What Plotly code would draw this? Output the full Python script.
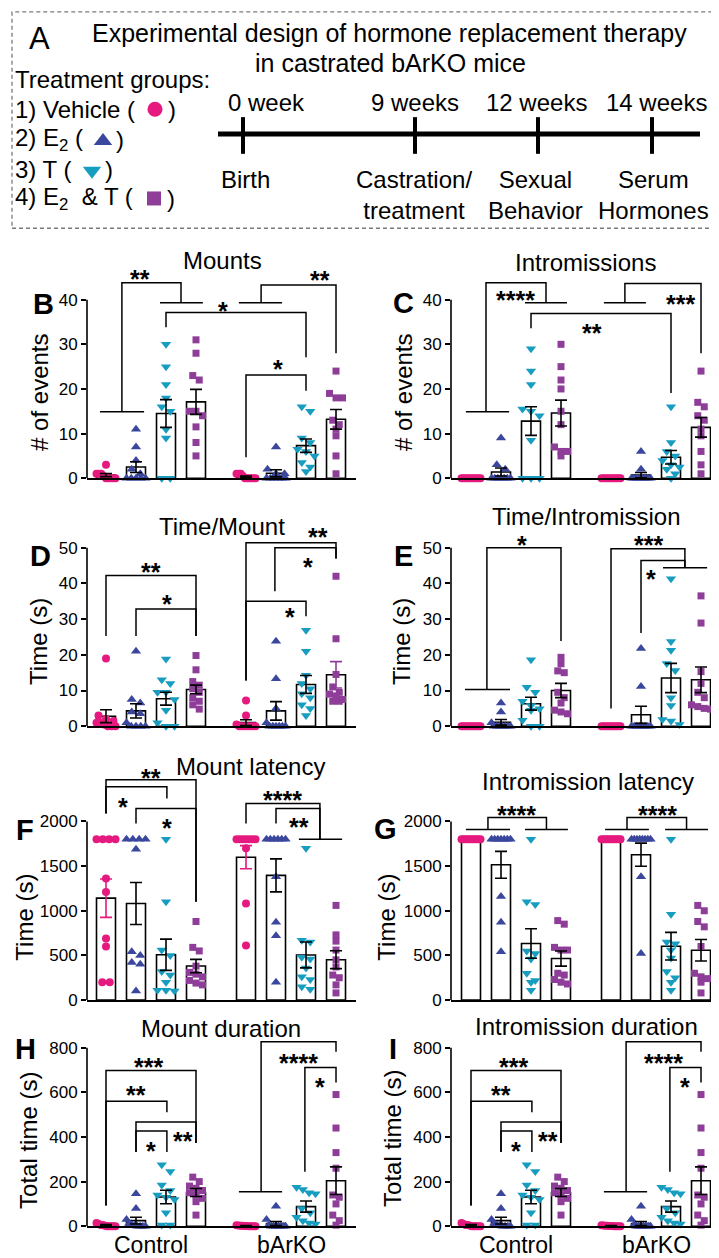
import plotly.graph_objects as go

# ---------------- data ----------------
group_names = ["Vehicle", "E2", "T", "E2 & T"]
genotypes = ["Control", "bArKO"]
bar_pos = [0, 1, 2, 3, 4.667, 5.667, 6.667, 7.667]

mounts_mean = [0.7, 2.5, 14.5, 17.1, 0.35, 1.1, 7.3, 13.2]
mounts_sem = [0.35, 1.2, 3.1, 2.8, 0.15, 0.8, 1.5, 2.2]
mounts_pts = [
    [3, 1, 1, 1, 0.5, 0, 0, 0, 0, 0],
    [11, 7, 4, 2, 1, 0, 0, 0, 0, 0],
    [30, 25, 21, 18, 16, 15, 11, 9, 0, 0],
    [31, 28, 23, 22, 15, 15, 14, 11.5, 8, 5],
    [1, 1, 1, 0.5, 0, 0, 0, 0, 0, 0],
    [7, 2, 1, 1, 0, 0, 0, 0, 0, 0],
    [16, 15, 9, 8, 6.5, 6, 5, 3.5, 2.5, 1.5],
    [24, 19, 18, 18, 13, 12, 11, 9.5, 5, 1],
]

intro_mean = [0, 1.4, 12.8, 14.6, 0, 0.7, 4.7, 11.4]
intro_sem = [0, 0.9, 3.2, 2.9, 0, 0.6, 1.5, 2.2]
intro_pts = [
    [0, 0, 0, 0, 0, 0, 0, 0, 0, 0],
    [9, 3, 2, 0, 0, 0, 0, 0, 0, 0],
    [29, 24, 21, 15.5, 15, 14, 8.5, 0, 0, 0],
    [30, 25, 22, 20, 15, 12, 7, 6, 6, 5],
    [0, 0, 0, 0, 0, 0, 0, 0, 0, 0],
    [6, 2, 0, 0, 0, 0, 0, 0, 0, 0],
    [16, 8, 6, 5, 4, 3, 2.5, 2, 1, 0],
    [24, 17, 16, 14, 13, 11, 9.5, 6, 3, 1],
]

tpm_mean = [2.8, 4.3, 7.7, 10.3, 1.0, 4.3, 11.7, 14.4]
tpm_sem = [1.8, 2.0, 1.8, 1.2, 0.8, 2.6, 2.5, 3.7]
tpm_pts = [
    [19, 3, 2, 1.5, 1, 1, 0.5, 0, 0, 0],
    [21, 7.5, 6.5, 4, 3.5, 1, 0, 0, 0, 0],
    [18.8, 13, 12, 9.5, 9.5, 7.5, 4.5, 1, 0, 0],
    [19.8, 15.8, 12.5, 11.5, 10.5, 9.5, 8, 7, 6, 4.8],
    [7.2, 3, 0.5, 0, 0, 0, 0, 0, 0, 0],
    [23.8, 13.3, 5, 1, 0, 0, 0, 0, 0, 0],
    [26.9, 21, 14.3, 12, 10.5, 9.1, 8, 6, 5, 3],
    [42, 24.5, 14.5, 11, 9.5, 9, 8.5, 7.5, 7, 7],
]

tpi_mean = [0, 1.1, 6.3, 10.0, 0, 3.2, 13.5, 13.0]
tpi_sem = [0, 0.8, 1.8, 2.0, 0, 2.4, 4.1, 3.6]
tpi_pts = [
    [0, 0, 0, 0, 0, 0, 0, 0, 0, 0],
    [6.5, 4, 1, 0, 0, 0, 0, 0, 0, 0],
    [18.6, 10.9, 9.5, 7, 5.8, 4.9, 4.5, 1.7, 0, 0],
    [19.3, 17.5, 15.5, 15, 9.5, 8, 6.5, 4.5, 4, 3.5],
    [0, 0, 0, 0, 0, 0, 0, 0, 0, 0],
    [21.8, 11.1, 0, 0, 0, 0, 0, 0, 0, 0],
    [41.3, 23.7, 21.3, 17.6, 15.6, 8, 5.8, 1.9, 1.5, 0.5],
    [36.5, 28.9, 15.3, 12, 9.5, 8, 6, 5.5, 5, 4.8],
]

mlat_mean = [1141, 1081, 507, 381, 1600, 1396, 505, 452]
mlat_sem = [215, 235, 175, 75, 130, 185, 145, 100]
mlat_pts = [
    [1800, 1800, 1800, 1800, 1360, 1210, 690, 600, 200, 200],
    [1800, 1800, 1800, 1800, 1690, 540, 500, 420, 400, 100],
    [1800, 1100, 560, 500, 320, 280, 200, 110, 110, 100],
    [880, 590, 550, 380, 310, 290, 260, 220, 190, 170],
    [1800, 1800, 1800, 1800, 1800, 1800, 1800, 1700, 1080, 610],
    [1800, 1800, 1800, 1800, 1800, 1800, 1380, 870, 720, 200],
    [1700, 670, 650, 480, 460, 360, 260, 230, 150, 120],
    [1060, 730, 660, 560, 450, 370, 280, 250, 170, 80],
]

ilat_mean = [1800, 1515, 633, 465, 1800, 1628, 603, 558]
ilat_sem = [0, 150, 165, 85, 0, 130, 155, 120]
ilat_pts = [
    [1800, 1800, 1800, 1800, 1800, 1800, 1800, 1800, 1800, 1800],
    [1800, 1800, 1800, 1800, 1800, 1800, 1800, 1160, 870, 540],
    [1800, 1100, 1070, 550, 520, 460, 300, 220, 200, 110],
    [890, 850, 590, 560, 560, 300, 280, 230, 200, 180],
    [1800, 1800, 1800, 1800, 1800, 1800, 1800, 1800, 1800, 1800],
    [1800, 1800, 1800, 1800, 1800, 1800, 1800, 1800, 1380, 520],
    [1800, 960, 650, 630, 560, 470, 320, 250, 200, 110],
    [1060, 1000, 880, 820, 600, 300, 260, 240, 200, 80],
]

mdur_mean = [5, 25, 131, 151, 2, 12, 88, 204]
mdur_sem = [2, 15, 30, 18, 1, 9, 25, 62]
mdur_pts = [
    [15, 10, 5, 5, 2, 0, 0, 0, 0, 0],
    [145, 80, 30, 12, 5, 3, 0, 0, 0, 0],
    [275, 245, 185, 160, 140, 130, 120, 60, 5, 5],
    [220, 200, 180, 170, 160, 150, 140, 125, 110, 50],
    [4, 3, 2, 2, 1, 1, 0, 0, 0, 0],
    [90, 30, 5, 0, 0, 0, 0, 0, 0, 0],
    [175, 165, 150, 145, 80, 60, 40, 25, 15, 10],
    [590, 440, 330, 260, 140, 130, 100, 50, 25, 5],
]

idur_mean = [5, 25, 131, 151, 2, 12, 88, 204]
idur_sem = [2, 15, 30, 18, 1, 9, 25, 62]
idur_pts = [
    [15, 10, 5, 5, 2, 0, 0, 0, 0, 0],
    [145, 80, 30, 12, 5, 3, 0, 0, 0, 0],
    [275, 245, 185, 160, 140, 130, 120, 60, 5, 5],
    [220, 200, 180, 170, 160, 150, 140, 125, 110, 50],
    [4, 3, 2, 2, 1, 1, 0, 0, 0, 0],
    [90, 30, 5, 0, 0, 0, 0, 0, 0, 0],
    [175, 165, 150, 145, 80, 60, 40, 25, 15, 10],
    [590, 440, 330, 260, 140, 130, 100, 50, 25, 5],
]

# significance brackets in data units: (x_a, y_a_bottom, x_b, y_b_bottom, y_top)
mounts_br = [(0.53, 14.9, 2.5, 39.3, 43.8), (5.17, 39.3, 7.667, 28, 43.3),
             (2.0, 33.8, 6.667, 27.1, 37.1), (4.667, 4.7, 6.667, 19.6, 23.1)]
mounts_hl = [(-0.2, 1.27, 14.9), (1.8, 3.23, 39.3), (4.43, 5.87, 39.3)]
mounts_st = [(1.13, 46.0, "**"), (7.13, 45.8, "**"), (3.9, 38.8, "*"), (5.73, 25.8, "*")]

intro_br = [(0.5, 14.9, 2.5, 39.3, 43.8), (5.13, 39.3, 7.667, 28, 43.6),
            (2.0, 33.6, 6.667, 19.1, 36.9)]
intro_hl = [(-0.17, 1.27, 14.9), (1.8, 3.2, 39.3), (4.43, 5.83, 39.3)]
intro_st = [(1.47, 41.3, "****"), (6.97, 40.4, "***"), (4.03, 33.8, "**")]

tpm_br = [(0, 25.3, 3, 25.3, 42.2), (1, 25.3, 3, 25.3, 32.8),
          (4.667, 12.8, 7.667, 47, 51.4), (5.63, 37.8, 7.667, 47, 50),
          (4.667, 12.8, 6.667, 30.8, 35)]
tpm_hl = []
tpm_st = [(1.5, 45, "**"), (2.03, 35.8, "*"), (7.07, 54.7, "**"), (6.73, 46.4, "*"), (6.13, 32.2, "*")]

tpi_br = [(0.53, 10.3, 3.0, 23.9, 50), (4.667, 5.0, 7.13, 44.4, 49.7),
          (5.667, 26.1, 7.13, 44.4, 46.4)]
tpi_hl = [(-0.2, 1.3, 10.3), (6.4, 7.87, 44.4)]
tpi_st = [(1.7, 52.5, "*"), (5.9, 52.5, "***"), (6.0, 43, "*")]

mlat_br = [(0, 2089, 3, 1100, 2467), (0, 2089, 2.03, 2256, 2389),
           (1, 1978, 3, 1100, 2144), (4.667, 1978, 7.13, 1800, 2200),
           (5.667, 1978, 7.13, 1800, 2144)]
mlat_hl = [(6.43, 7.87, 1800)]
mlat_st = [(1.5, 2555, "**"), (0.57, 2233, "*"), (2.03, 1989, "*"), (5.87, 2311, "****"), (6.43, 2000, "**")]

ilat_br = [(0.565, 1911, 2.515, 1911, 2044), (5.2, 1911, 7.185, 1911, 2044)]
ilat_hl = [(-0.17, 1.3, 1911), (1.8, 3.23, 1911), (4.47, 5.93, 1911), (6.47, 7.9, 1911)]
ilat_st = [(1.5, 2144, "****"), (6.2, 2144, "****")]

mdur_br = [(0, 93, 3, 373, 698), (0, 93, 2.03, 511, 560), (1, 333, 3, 373, 467),
           (1, 333, 2.03, 333, 427), (5.17, 155, 7.667, 782, 827), (6.63, 244, 7.667, 644, 711)]
mdur_hl = [(4.43, 5.87, 155)]
mdur_st = [(1.4, 742, "***"), (1.0, 613, "**"), (2.57, 409, "**"), (1.5, 364, "*"),
           (6.4, 760, "****"), (7.13, 649, "*")]

idur_br = [(0, 93, 3, 373, 698), (0, 93, 2.03, 511, 560), (1, 333, 3, 373, 467),
           (1, 333, 2.03, 333, 427), (5.17, 155, 7.667, 782, 827), (6.63, 244, 7.667, 644, 711)]
idur_hl = [(4.43, 5.87, 155)]
idur_st = [(1.4, 742, "***"), (1.0, 613, "**"), (2.57, 409, "**"), (1.5, 364, "*"),
           (6.4, 760, "****"), (7.13, 649, "*")]

# ---------------- style / layout ----------------
W, H = 719, 1258
FONT = "Liberation Sans, Arial, Helvetica, sans-serif"
COLORS = ["#e5197e", "#3b479d", "#179dbf", "#8e3e98"]
SYMBOLS = ["circle", "triangle-up", "triangle-down", "square"]
MSIZE = [8, 9, 9, 7]
UNIT = 30.0  # px per x unit

rows = [
    dict(top=258, zero=474, ppu=4.5, ticks=[0, 10, 20, 30, 40]),
    dict(top=512, zero=724, ppu=3.6, ticks=[0, 10, 20, 30, 40, 50]),
    dict(top=752, zero=1000, ppu=0.09, ticks=[0, 500, 1000, 1500, 2000]),
    dict(top=1030, zero=1228, ppu=0.225, ticks=[0, 200, 400, 600, 800]),
]
cols = [dict(left=79, right=348, x0=98), dict(left=443, right=713, x0=463)]

panels = [
    dict(letter="B", title="Mounts", tpos=(214, 255), ytitle="# of events", ypos=(32, 388), lpos=(35, 298),
         row=0, col=0, mean=mounts_mean, sem=mounts_sem, pts=mounts_pts, br=mounts_br, hl=mounts_hl, st=mounts_st),
    dict(letter="C", title="Intromissions", tpos=(577, 257), ytitle="# of events", ypos=(396, 388), lpos=(395, 297),
         row=0, col=1, mean=intro_mean, sem=intro_sem, pts=intro_pts, br=intro_br, hl=intro_hl, st=intro_st),
    dict(letter="D", title="Time/Mount", tpos=(214, 523), ytitle="Time (s)", ypos=(31, 639), lpos=(32, 552),
         row=1, col=0, mean=tpm_mean, sem=tpm_sem, pts=tpm_pts, br=tpm_br, hl=tpm_hl, st=tpm_st),
    dict(letter="E", title="Time/Intromission", tpos=(578, 513), ytitle="Time (s)", ypos=(394, 639), lpos=(395, 552),
         row=1, col=1, mean=tpi_mean, sem=tpi_sem, pts=tpi_pts, br=tpi_br, hl=tpi_hl, st=tpi_st),
    dict(letter="F", title="Mount latency", tpos=(242, 765), ytitle="Time (s)", ypos=(17, 917), lpos=(17, 829),
         row=2, col=0, mean=mlat_mean, sem=mlat_sem, pts=mlat_pts, br=mlat_br, hl=mlat_hl, st=mlat_st),
    dict(letter="G", title="Intromission latency", tpos=(580, 780), ytitle="Time (s)", ypos=(379, 917), lpos=(378, 828),
         row=2, col=1, mean=ilat_mean, sem=ilat_sem, pts=ilat_pts, br=ilat_br, hl=ilat_hl, st=ilat_st),
    dict(letter="H", title="Mount duration", tpos=(213, 1029), ytitle="Total time (s)", ypos=(21, 1142), lpos=(17, 1049),
         row=3, col=0, mean=mdur_mean, sem=mdur_sem, pts=mdur_pts, br=mdur_br, hl=mdur_hl, st=mdur_st),
    dict(letter="I", title="Intromission duration", tpos=(578, 1027), ytitle="Total time (s)", ypos=(385, 1140), lpos=(385, 1049),
         row=3, col=1, mean=idur_mean, sem=idur_sem, pts=idur_pts, br=idur_br, hl=idur_hl, st=idur_st),
]

# error-bar colour overrides (panel letter, bar index) -> colour
err_color_override = {("F", 0): COLORS[0], ("F", 4): COLORS[0], ("D", 7): COLORS[3]}


def swarm(vals, ppu, diam, maxhalf=9.5):
    order = sorted(range(len(vals)), key=lambda i: -vals[i])
    offs = [0.0] * len(vals)
    groups, cur = [], []
    for i in order:
        if cur and (vals[cur[0]] - vals[i]) * ppu < diam * 0.9:
            cur.append(i)
        else:
            if cur:
                groups.append(cur)
            cur = [i]
    if cur:
        groups.append(cur)
    for g in groups:
        k = len(g)
        if k == 1:
            continue
        sp = min(diam, 2 * maxhalf / (k - 1))
        for j, i in enumerate(g):
            offs[i] = (j - (k - 1) / 2) * sp
    return offs


def px(x):
    return x / W


def py(y):
    return 1 - y / H


def ptext(x, y, text, font, xanchor="center", angle=0):
    return dict(x=px(x), y=py(y), xref="paper", yref="paper", text=text, showarrow=False,
                xanchor=xanchor, yanchor="middle", textangle=angle, font=font)


fig = go.Figure()
layout = {}
shapes = []
annotations = []

for n, p in enumerate(panels, start=1):
    s = "" if n == 1 else str(n)
    xr, yr = "x" + s, "y" + s
    row, col = rows[p["row"]], cols[p["col"]]
    xrange = [(col["left"] - col["x0"]) / UNIT, (col["right"] - col["x0"]) / UNIT]
    yrange = [0, (row["zero"] - row["top"]) / row["ppu"]]
    layout["xaxis" + s] = dict(domain=[px(col["left"]), px(col["right"])], range=xrange, anchor=yr,
                               showline=True, linecolor="black", linewidth=1.6, ticks="",
                               showticklabels=False, showgrid=False, zeroline=False, fixedrange=True)
    layout["yaxis" + s] = dict(domain=[py(row["zero"]), py(row["top"])], range=yrange, anchor=xr,
                               showline=False, ticks="outside", ticklen=5, tickwidth=1.6, tickcolor="black",
                               tickvals=row["ticks"], ticktext=[str(t) for t in row["ticks"]],
                               tickfont=dict(size=17, color="black", family=FONT),
                               showgrid=False, zeroline=False, fixedrange=True)
    # y-axis line from 0 to the top tick
    shapes.append(dict(type="line", xref=xr + " domain", yref=yr, x0=0, x1=0, y0=0, y1=row["ticks"][-1],
                       line=dict(color="black", width=1.6)))

    fig.add_trace(go.Bar(x=bar_pos, y=p["mean"], width=0.633, xaxis=xr, yaxis=yr,
                         marker=dict(color="white", line=dict(color="black", width=1.6)),
                         showlegend=False, hoverinfo="skip"))
    for g in range(8):
        vals = p["pts"][g]
        k = g % 4
        offs = swarm(vals, row["ppu"], MSIZE[k] - 0.5)
        fig.add_trace(go.Scatter(x=[bar_pos[g] + o / UNIT for o in offs], y=vals, mode="markers",
                                 xaxis=xr, yaxis=yr, cliponaxis=False, showlegend=False, hoverinfo="skip",
                                 marker=dict(symbol=SYMBOLS[k], size=MSIZE[k], color=COLORS[k], opacity=1,
                                             line=dict(width=0))))
    # error bars grouped by colour
    ecols = {}
    for g in range(8):
        if p["sem"][g] <= 0:
            continue
        c = err_color_override.get((p["letter"], g), "black")
        ecols.setdefault(c, []).append(g)
    for c, idx in ecols.items():
        fig.add_trace(go.Scatter(x=[bar_pos[g] for g in idx], y=[p["mean"][g] for g in idx], mode="markers",
                                 xaxis=xr, yaxis=yr, showlegend=False, hoverinfo="skip", cliponaxis=False,
                                 marker=dict(size=2, color="rgba(0,0,0,0)"),
                                 error_y=dict(type="data", array=[p["sem"][g] for g in idx], symmetric=True,
                                              color=c, thickness=1.6, width=6)))
    # brackets
    bx, by = [], []
    for (xa, ya, xb, yb, yt) in p["br"]:
        bx += [xa, xa, xb, xb, None]
        by += [ya, yt, yt, yb, None]
    for (x0, x1, yy) in p["hl"]:
        bx += [x0, x1, None]
        by += [yy, yy, None]
    fig.add_trace(go.Scatter(x=bx, y=by, mode="lines", xaxis=xr, yaxis=yr, showlegend=False, hoverinfo="skip",
                             line=dict(color="black", width=1.5)))
    for (sx, sy, txt) in p["st"]:
        annotations.append(dict(x=sx, y=sy, xref=xr, yref=yr, text="<b>" + txt + "</b>", showarrow=False,
                                xanchor="center", yanchor="middle",
                                font=dict(size=25, color="black", family=FONT), yshift=-6))
    # titles & labels
    annotations.append(ptext(p["tpos"][0], p["tpos"][1], p["title"], dict(size=24, color="black", family=FONT)))
    annotations.append(ptext(p["lpos"][0], p["lpos"][1], "<b>" + p["letter"] + "</b>",
                             dict(size=29, color="black", family=FONT)))
    annotations.append(ptext(p["ypos"][0], p["ypos"][1], p["ytitle"], dict(size=24, color="black", family=FONT),
                             angle=-90))

# genotype labels under bottom panels
for (cx, txt) in [(143, genotypes[0]), (283, genotypes[1]), (508, genotypes[0]), (648, genotypes[1])]:
    annotations.append(ptext(cx, 1247, txt, dict(size=23, color="black", family=FONT)))

# ---------------- panel A (experimental design) ----------------
shapes.append(dict(type="rect", xref="paper", yref="paper", x0=px(4), x1=px(715), y0=py(222), y1=py(4),
                   line=dict(color="#7a7a7a", width=1.3, dash="4px,3px")))
shapes.append(dict(type="line", xref="paper", yref="paper", x0=px(210), x1=px(692), y0=py(127), y1=py(127),
                   line=dict(color="black", width=5)))
for tx in [235, 407, 530, 644]:
    shapes.append(dict(type="line", xref="paper", yref="paper", x0=px(tx), x1=px(tx), y0=py(110), y1=py(147),
                       line=dict(color="black", width=4)))

A_FONT = dict(size=24, color="black", family=FONT)
T_FONT = dict(size=25, color="black", family=FONT)
annotations.append(ptext(31, 31, "A", dict(size=31, color="black", family=FONT)))
annotations.append(ptext(381, 25, "Experimental design of hormone replacement therapy", T_FONT))
annotations.append(ptext(382, 55, "in castrated bArKO mice", T_FONT))
annotations.append(ptext(5, 72, "Treatment groups:", A_FONT, xanchor="left"))

# legend rows: (row y, text before key, key centre x, text after key)
legend_rows = [
    (102, "1) Vehicle (", 147, ")"),
    (133, "2) E<sub>2</sub> (", 95, ")"),
    (163, "3) T (", 84, ")"),
    (192, "4) E<sub>2</sub>\u00a0\u00a0& T (", 146, ")"),
]
KEY_SIZE = [15, 16, 16, 14]
for i, (yy, before, kx, after) in enumerate(legend_rows):
    annotations.append(ptext(5, yy, before, A_FONT, xanchor="left"))
    annotations.append(ptext(kx + 11, yy, after, A_FONT, xanchor="left"))
# legend keys drawn on an overlay axis in pixel units (transparent background)
layout["xaxis9"] = dict(domain=[0, 1], range=[0, W], visible=False, fixedrange=True, anchor="y9")
layout["yaxis9"] = dict(domain=[0, 1], range=[H, 0], visible=False, fixedrange=True, anchor="x9")
fig.add_trace(go.Scatter(x=[r[2] for r in legend_rows],
                         y=[r[0] + (1 if i in (1, 2) else 0) for i, r in enumerate(legend_rows)],
                         mode="markers", xaxis="x9", yaxis="y9", showlegend=False, hoverinfo="skip",
                         cliponaxis=False,
                         marker=dict(symbol=SYMBOLS, size=KEY_SIZE, color=COLORS, opacity=1,
                                     line=dict(width=0))))

for cx, txt in [(258, "0 week"), (407, "9 weeks"), (528, "12 weeks"), (648, "14 weeks")]:
    annotations.append(ptext(cx, 95, txt, A_FONT))
annotations.append(ptext(238, 173, "Birth", A_FONT))
for cx, txt in [(406, "Castration/<br>treatment"), (527, "Sexual<br>Behavior"), (645, "Serum<br>Hormones")]:
    annotations.append(ptext(cx, 188, txt, A_FONT))

fig.update_layout(width=W, height=H, margin=dict(l=0, r=0, t=0, b=0), paper_bgcolor="white",
                  plot_bgcolor="rgba(0,0,0,0)", showlegend=False, shapes=shapes, annotations=annotations,
                  font=dict(family=FONT, color="black"), **layout)

fig.write_html("out.html")
